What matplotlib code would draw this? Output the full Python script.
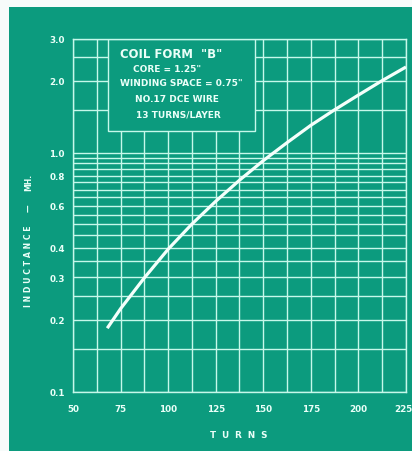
import numpy as np
import matplotlib
matplotlib.use("Agg")
import matplotlib.pyplot as plt
from matplotlib.patches import Rectangle
from matplotlib.ticker import NullFormatter, FixedLocator
from matplotlib.transforms import ScaledTranslation

# Inductance curve for coil form "B"
turns = [68, 75, 87.5, 100, 112.5, 125, 137.5, 150, 162.5, 175, 187.5, 200, 212.5, 225]
inductance_mh = [0.184, 0.222, 0.299, 0.394, 0.502, 0.625, 0.766, 0.925, 1.10, 1.30, 1.51, 1.74, 2.0, 2.28]

x_ticks = [50, 75, 100, 125, 150, 175, 200, 225]
x_labels = ["50", "75", "100", "125", "150", "175", "200", "225"]
y_ticks = [0.1, 0.2, 0.3, 0.4, 0.6, 0.8, 1.0, 2.0, 3.0]
y_labels = ["0.1", "0.2", "0.3", "0.4", "0.6", "0.8", "1.0", "2.0", "3.0"]

notes = [
    ("COIL FORM  \"B\"", 8.4),
    ("CORE = 1.25\"", 6.5),
    ("WINDING SPACE = 0.75\"", 6.5),
    ("NO.17 DCE WIRE", 6.5),
    ("13 TURNS/LAYER", 6.5),
]

BG = "#0c9b7e"
GRID = "#c6f8ea"
INK = "#eafff8"

W, H = 412, 452
fig = plt.figure(figsize=(W / 100, H / 100), dpi=100)
fig.patch.set_facecolor("#f7fbfa")


def px(x, y):
    return x / W, 1 - y / H


# teal card
fig.add_artist(Rectangle((9 / W, 0), 1 - 9 / W, 1 - 8 / H,
                         transform=fig.transFigure, facecolor=BG,
                         edgecolor="none", zorder=0))

ax = fig.add_axes([73 / W, 1 - 392.5 / H, 333 / W, 353 / H])
ax.patch.set_visible(False)
ax.set_yscale("log")
ax.set_xlim(50, 225)
ax.set_ylim(0.1, 3.0)

# grid: every 12.5 turns; every 0.05 mH below 1, every 0.5 mH above
vgrid = np.arange(50, 225.1, 12.5)
hgrid = list(np.arange(0.1, 1.0001, 0.05)) + [1.5, 2.0, 2.5, 3.0]
ax.vlines(vgrid, 0.1, 3.0, colors=GRID, lw=1.0, zorder=0.5)
ax.hlines(hgrid, 50, 225, colors=GRID, lw=1.0, zorder=0.5)

ax.set_xticks(x_ticks, x_labels)
ax.set_yticks(y_ticks, y_labels)
ax.yaxis.set_minor_locator(FixedLocator([]))
ax.yaxis.set_minor_formatter(NullFormatter())
ax.tick_params(axis="both", which="both", length=0, colors=INK)
ax.tick_params(axis="y", pad=6)
ax.tick_params(axis="x", pad=9)
for lab in ax.get_xticklabels() + ax.get_yticklabels():
    lab.set_fontsize(6.3)
    lab.set_fontweight("bold")
    lab.set_color(INK)
# keep the last turns label inside the card
last = ax.get_xticklabels()[-1]
last.set_transform(last.get_transform() + ScaledTranslation(-3 / 100, 0, fig.dpi_scale_trans))
for s in ax.spines.values():
    s.set_color(GRID)
    s.set_linewidth(1.0)

# title box covering the upper-left grid
ax.add_patch(Rectangle((68.4, 1.23), 145.6 - 68.4, 3.0 - 1.23,
                       facecolor=BG, edgecolor=GRID, lw=1.0, zorder=1))

ax.plot(turns, inductance_mh, color="#f4fffb", lw=2.3,
        solid_capstyle="butt", solid_joinstyle="round", zorder=3)

# box lettering
starts = [(120, 55), (133, 69), (120, 83.5), (135, 99), (136, 115)]
for (txt, size), (x, y) in zip(notes, starts):
    fig.text(*px(x, y), txt, fontsize=size, fontweight="bold",
             color=INK, ha="left", va="center")

# axis titles
fig.text(*px(239, 436), "T  U  R  N  S", fontsize=6.3, fontweight="bold",
         color=INK, ha="center", va="center")
fig.text(*px(29, 266), "I N D U C T A N C E", fontsize=5.6, fontweight="bold",
         color=INK, ha="center", va="center", rotation=90)
fig.text(*px(29, 208), "\u2014", fontsize=5.6, fontweight="bold",
         color=INK, ha="center", va="center", rotation=90)
fig.text(*px(29, 182), "MH.", fontsize=5.6, fontweight="bold",
         color=INK, ha="center", va="center", rotation=90)

fig.savefig("out.png", dpi=100, facecolor=fig.get_facecolor())
